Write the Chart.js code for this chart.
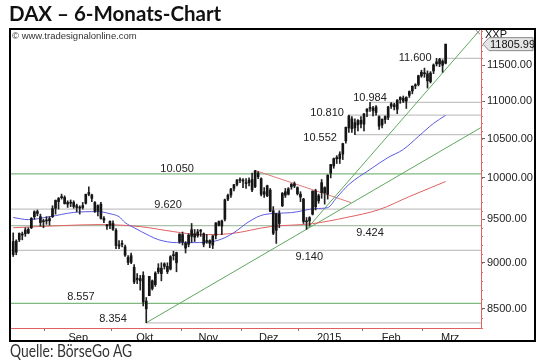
<!DOCTYPE html>
<html>
<head>
<meta charset="utf-8">
<script src="https://cdn.jsdelivr.net/npm/chart.js@4.4.1/dist/chart.umd.min.js"></script>
<style>
  body { margin: 0; background: #fff; }
  #wrap { position: relative; width: 540px; height: 363px; }
  canvas { position: absolute; left: 0; top: 0; }
  #title { position: absolute; left: 9px; top: 1px; font: bold 20.5px Lato, "Open Sans", sans-serif; color: #111; }
  #src { position: absolute; left: 10px; top: 341px; font: 16.5px Lato, "Open Sans", sans-serif; color: #333;
         transform: scaleX(0.84); transform-origin: left top; }
</style>
</head>
<body>
<div id="wrap">
  <canvas id="c" width="540" height="363"></canvas>
  <div id="title">DAX – 6-Monats-Chart</div>
  <div id="src">Quelle: BörseGo AG</div>
</div>
<script>
// daily candles, 15.08.2014 - 11.03.2015 (index = trading day)
let opens = [9240,9120,9260,9320,9330,9380,9400,9530,9590,9530,9480,
  9480,9480,9530,9630,9710,9770,9760,9680,9700,9700,9640,9640,9640,9690,9820,9790,9700,9600,9680,9510,9420,9430,
  9450,9370,9190,9220,9180,9060,9080,8950,8830,8800,8860,8500,8640,8800,8760,8900,8880,8960,8960,8930,9080,9000,9240,
  9320,9220,9210,9300,9330,9310,9360,9330,9240,9220,9200,9310,9430,9420,9500,9740,9790,9870,9920,9970,
  9960,9930,9940,9980,9890,10060,9990,9830,9780,9850,9600,9370,9450,9660,9830,9800,9890,9900,9880,
  9800,9740,9480,9480,9560,9840,9720,9820,9880,9800,10060,10150,10240,10240,10300,10470,10640,10760,10640,10680,10740,
  10690,10860,10900,10870,10920,10790,10680,10790,10780,10930,10950,10890,11020,11040,11000,11080,11140,11220,11230,11350,
  11380,11380,11270,11420,11520,11520,11560,11530];
let highs = [9340,9260,9340,9350,9400,9400,9520,9600,9610,9560,9500,
  9530,9530,9660,9730,9760,9800,9780,9720,9730,9720,9680,9660,9700,9800,9890,9800,9710,9670,9700,9530,9440,9480,
  9480,9390,9250,9250,9200,9080,9110,8980,8880,8860,8900,8620,8850,8810,8900,8990,9000,9000,9000,9080,9130,9120,9330,
  9350,9240,9330,9450,9380,9380,9380,9340,9320,9260,9310,9460,9480,9490,9740,9800,9870,9920,9980,10000,
  9990,9990,10000,10060,10093,10080,10000,9880,9910,9870,9650,9570,9600,9820,9870,9880,9930,9950,9890,
  9830,9750,9520,9530,9840,9860,9800,9980,9890,10040,10170,10250,10280,10330,10440,10650,10810,10790,10760,10750,10790,
  10830,10900,10984,10930,10940,10800,10760,10800,10930,10980,10970,11020,11060,11070,11060,11140,11210,11240,11360,11430,
  11460,11420,11410,11520,11600,11600,11580,11806];
let lows = [9070,9090,9240,9260,9300,9330,9390,9500,9540,9420,9400,
  9440,9430,9520,9560,9620,9740,9680,9640,9650,9630,9590,9560,9620,9680,9780,9710,9580,9540,9500,9460,9380,9390,
  9370,9160,9160,9180,9070,8980,8990,8770,8770,8700,8530,8354,8640,8700,8740,8880,8800,8930,8880,8920,9030,8900,9220,
  9200,9110,9180,9230,9240,9290,9300,9180,9220,9170,9160,9270,9420,9320,9480,9720,9760,9840,9900,9940,
  9880,9870,9900,9830,9880,9990,9780,9760,9770,9590,9320,9219,9400,9650,9760,9790,9860,9880,9790,
  9710,9450,9382,9420,9550,9610,9690,9750,9680,9740,10000,10120,10180,10180,10230,10440,10580,10580,10552,10600,10640,
  10600,10790,10860,10800,10810,10620,10640,10700,10750,10900,10880,10830,10970,10980,10900,11050,11100,11170,11210,11330,
  11330,11180,11250,11380,11490,11480,11400,11520];
let closes = [9092,9245,9334,9315,9373,9339,9510,9588,9569,9462,9470,
  9479,9507,9626,9724,9747,9758,9686,9700,9691,9651,9660,9632,9661,9799,9799,9749,9595,9661,9510,9490,9422,9474,
  9382,9195,9195,9209,9086,9005,9005,8788,8812,8825,8572,8582,8850,8717,8886,8941,8940,8988,8902,9068,9082,9114,9326,
  9235,9166,9315,9377,9291,9351,9369,9210,9248,9252,9306,9456,9472,9480,9732,9785,9861,9915,9974,9980,
  9963,9934,9971,9851,10087,10014,9799,9799,9903,9594,9335,9564,9563,9811,9787,9865,9922,9927,9806,
  9764,9473,9469,9518,9837,9648,9781,9941,9817,10032,10168,10242,10257,10299,10435,10649,10798,10628,10710,10738,10694,
  10828,10891,10911,10905,10846,10664,10753,10752,10919,10963,10924,11014,11051,11001,11050,11131,11205,11210,11352,11401,
  11392,11280,11390,11504,11550,11583,11500,11805.99];
let lastQuote = 11805.99;

// moving averages (index, value)
let blueIdx = [0,5,12,20,28,32,35,37,40,45,48,54,60,66,70,73,78,83,92,100,104,107,111,118,124,129,134,139,143];
let blueVal = [9520,9495,9530,9580,9590,9565,9530,9460,9400,9308,9262,9228,9228,9240,9285,9343,9472,9555,9578,9626,9638,9760,9918,10105,10257,10359,10528,10700,10807];
let redIdx = [0,16,29,42,53,62,72,85,99,110,121,131,143];
let redVal = [9400,9425,9437,9413,9355,9320,9332,9413,9448,9519,9614,9771,9955];

// horizontal levels
let levelValues = [10050, 9620, 9424, 9140, 8557, 8354, 10552, 10810, 10984, 11600];
let levelFrom = [null, null, null, null, null, 44, 113, 111, 118, 141];

// trend lines (start index, start value, end index, end value)
let trendUp1 = [44, 8354, 154.7, 10645];
let trendUp2 = [97, 9382, 153.7, 11982];
let trendDown = [80, 10093, 111.7, 9698];

// axes
let monthNames = ['Sep', 'Okt', 'Nov', 'Dez', '2015', 'Feb', 'Mrz'];
let monthStart = [11, 33, 56, 76, 95, 116, 136];
let monthMid = [21.5, 43.5, 64.5, 84.5, 104.5, 125, 144.5];
let yTicks = [8500, 9000, 9500, 10000, 10500, 11000, 11500];

const X_MIN = -1.06, X_MAX = 154.7;
const GREEN = '#7fb87f', GRAY = '#c4c4c4';
let levelColor = [GREEN, GRAY, '#a9c2a9', GRAY, GREEN, GRAY, GRAY, GRAY, GRAY, GRAY];
// label placement: x as index, dy from the line in px
let levelLabelIdx = [54.2, 51.2, 118, 97.9, 22.4, 33, 101.5, 103.8, 118, 132.9];
let levelLabelDy = [-2, -1, 10, 10, -3, -1, 6, 1, -1, 3];

function fmt(v) {
  return String(v).replace(/\B(?=(\d{3})+$)/, '.');
}

let datasets = [];
datasets.push({
  type: 'bar', data: opens.map((o, i) => ({x: i, y: [o, closes[i]]})),
  backgroundColor: '#151515', barThickness: 2, grouped: false, minBarLength: 1, order: 0
});
datasets.push({
  type: 'bar', data: lows.map((l, i) => ({x: i, y: [l, highs[i]]})),
  backgroundColor: '#222', barThickness: 1, grouped: false, order: 1
});
datasets.push({
  type: 'line', data: blueIdx.map((v, i) => ({x: v, y: blueVal[i]})),
  borderColor: '#5a5ae0', borderWidth: 1, pointRadius: 0, cubicInterpolationMode: 'monotone', order: 2
});
datasets.push({
  type: 'line', data: redIdx.map((v, i) => ({x: v, y: redVal[i]})),
  borderColor: '#e06060', borderWidth: 1, pointRadius: 0, cubicInterpolationMode: 'monotone', order: 2
});
[trendUp1, trendUp2].forEach((t, k) => {
  datasets.push({
    type: 'line', data: [{x: t[0], y: t[1]}, {x: t[2], y: t[3]}],
    borderColor: '#5fa85f', borderWidth: 1, order: 3,
    pointRadius: k === 1 ? [0, 3] : 0, pointStyle: 'crossRot', pointBorderColor: '#888', pointBorderWidth: 1
  });
});
datasets.push({
  type: 'line', data: [{x: trendDown[0], y: trendDown[1]}, {x: trendDown[2], y: trendDown[3]}],
  borderColor: '#e07a7a', borderWidth: 1, pointRadius: 0, order: 3
});
levelValues.forEach((v, i) => {
  datasets.push({
    type: 'line', data: [{x: levelFrom[i] === null ? X_MIN : levelFrom[i], y: v}, {x: X_MAX, y: v}],
    borderColor: levelColor[i], borderWidth: 1.2, pointRadius: 0, order: 4
  });
});

let overlay = {
  id: 'overlay',
  afterDraw(chart) {
    let ctx = chart.ctx, xs = chart.scales.x, ys = chart.scales.y, a = chart.chartArea;
    ctx.save();
    ctx.font = '11px "Liberation Sans", Arial, sans-serif';
    ctx.fillStyle = '#222';
    ctx.textAlign = 'center';
    ctx.textBaseline = 'alphabetic';
    levelValues.forEach((v, i) => {
      ctx.fillText(fmt(v), xs.getPixelForValue(levelLabelIdx[i]), ys.getPixelForValue(v) + levelLabelDy[i]);
    });
    // small red ticks on the price axis
    ctx.strokeStyle = '#e07070';
    ctx.lineWidth = 1;
    for (let v = 8300; v <= 12000; v += 100) {
      let py = Math.round(ys.getPixelForValue(v)) + 0.5;
      ctx.beginPath(); ctx.moveTo(a.right, py); ctx.lineTo(a.right + 2, py); ctx.stroke();
    }
    // watermark
    ctx.textAlign = 'left';
    ctx.font = '9.5px "Liberation Sans", Arial, sans-serif';
    ctx.fillStyle = '#333';
    ctx.fillText('© www.tradesignalonline.com', 12, 39);
    // symbol and last price box
    ctx.font = '11px "Liberation Sans", Arial, sans-serif';
    ctx.fillStyle = '#111';
    ctx.fillText('XXP', 485, 38);
    let py = ys.getPixelForValue(lastQuote);
    ctx.beginPath();
    ctx.moveTo(483, py);
    ctx.lineTo(489, py - 6.5);
    ctx.lineTo(533, py - 6.5);
    ctx.lineTo(533, py + 6.5);
    ctx.lineTo(489, py + 6.5);
    ctx.closePath();
    ctx.fillStyle = '#e4e4e4';
    ctx.fill();
    ctx.strokeStyle = '#8a8a8a';
    ctx.stroke();
    ctx.fillStyle = '#111';
    ctx.fillText(lastQuote.toFixed(2), 490, py + 4);
    // frame
    ctx.strokeStyle = '#000';
    ctx.lineWidth = 2;
    ctx.strokeRect(10, 29, 525, 312);
    ctx.restore();
  }
};

Chart.defaults.font.family = '"Liberation Sans", Arial, sans-serif';
Chart.defaults.font.size = 11;
Chart.defaults.color = '#222';

new Chart(document.getElementById('c'), {
  type: 'bar',
  data: { datasets: datasets },
  options: {
    responsive: false,
    animation: false,
    layout: { padding: { left: 10, top: 29, right: 5, bottom: 22 } },
    plugins: { legend: { display: false }, tooltip: { enabled: false } },
    scales: {
      x: {
        type: 'linear', min: X_MIN, max: X_MAX, offset: false,
        afterBuildTicks: s => {
          let t = monthStart.map(v => ({value: v - 0.5})).concat(monthMid.map(v => ({value: v})));
          t.sort((p, q) => p.value - q.value);
          s.ticks = t;
        },
        ticks: {
          autoSkip: false, maxRotation: 0, padding: 0, color: '#222',
          callback: v => { let k = monthMid.indexOf(v); return k < 0 ? '' : monthNames[k]; }
        },
        grid: {
          offset: false, drawOnChartArea: false, tickLength: 3,
          tickColor: c => (c.tick && monthMid.indexOf(c.tick.value) < 0) ? '#777' : 'rgba(0,0,0,0)'
        },
        border: { color: '#e06060', width: 1 },
        afterFit: s => { s.height = 13; }
      },
      y: {
        type: 'logarithmic', position: 'right', min: 8300, max: 12030,
        afterBuildTicks: s => { s.ticks = yTicks.map(v => ({value: v})); },
        ticks: { autoSkip: false, padding: 2, color: '#222', callback: v => Number(v).toFixed(2) },
        grid: { drawOnChartArea: false, tickLength: 4, tickColor: '#666' },
        border: { color: '#e06060', width: 1 },
        afterFit: s => { s.width = 54; }
      }
    }
  },
  plugins: [overlay]
});
</script>
</body>
</html>
